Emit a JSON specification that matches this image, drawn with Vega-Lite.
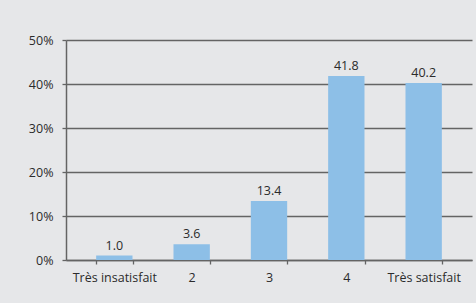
{
  "$schema": "https://vega.github.io/schema/vega-lite/v6.json",
  "autosize": "none",
  "width": 406,
  "height": 220,
  "padding": {"left": 66, "top": 40, "right": 4, "bottom": 43},
  "background": "#e6e7e9",
  "config": {
    "view": {"stroke": null},
    "font": "Open Sans",
    "axis": {"labelFont": "Open Sans", "labelFontSize": 12.5, "labelColor": "#2b2b2b", "domainColor": "#646464", "tickColor": "#646464", "gridColor": "#646464", "gridOpacity": 1}
  },
  "data": {
    "values": [
      {"cat": "Très insatisfait", "val": 1.0},
      {"cat": "2", "val": 3.6},
      {"cat": "3", "val": 13.4},
      {"cat": "4", "val": 41.8},
      {"cat": "Très satisfait", "val": 40.2}
    ]
  },
  "encoding": {
    "x": {
      "field": "cat", "type": "nominal", "sort": null,
      "scale": {"paddingInner": 0.53, "paddingOuter": 0.39},
      "axis": {"title": null, "labelAngle": 0, "tickSize": 4, "tickWidth": 1.3, "tickBand": "extent", "labelPadding": 7, "domainWidth": 1.5}
    },
    "y": {
      "field": "val", "type": "quantitative",
      "scale": {"domain": [0, 50]},
      "axis": {"title": null, "values": [0, 10, 20, 30, 40, 50], "labelExpr": "datum.value + '%'", "tickSize": 4, "tickWidth": 1.3, "labelPadding": 9, "gridWidth": 1.4, "domainWidth": 1.5}
    }
  },
  "layer": [
    {"mark": {"type": "bar", "color": "#8dbfe7"}},
    {
      "mark": {"type": "text", "baseline": "bottom", "dy": -3, "fontSize": 12.5, "color": "#2b2b2b", "font": "Open Sans"},
      "encoding": {"text": {"field": "val", "type": "quantitative", "format": ".1f"}}
    }
  ]
}
